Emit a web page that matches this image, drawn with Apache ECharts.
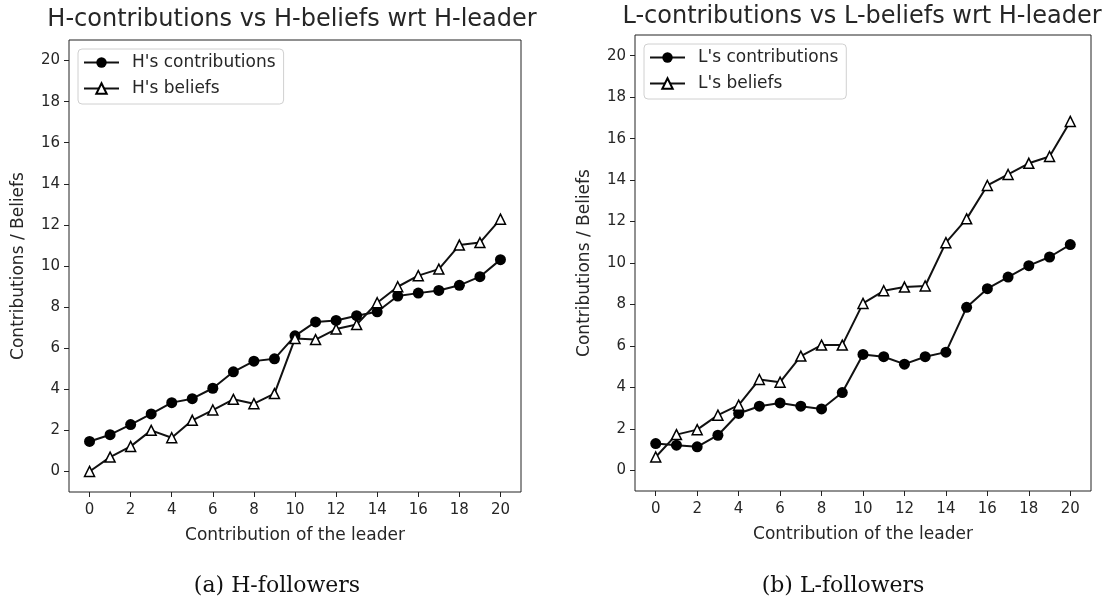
<!DOCTYPE html>
<html>
<head>
<meta charset="utf-8">
<script src="https://cdn.jsdelivr.net/npm/echarts@6/dist/echarts.min.js"></script>
<style>
html,body{margin:0;padding:0;background:#fff;}
#chart{width:1116px;height:604px;}
</style>
</head>
<body>
<div id="chart"></div>
<script>
// ---- data ----
const leaderContribution = [0,1,2,3,4,5,6,7,8,9,10,11,12,13,14,15,16,17,18,19,20];
const hContributions = [1.46,1.79,2.28,2.80,3.35,3.54,4.05,4.85,5.37,5.48,6.60,7.28,7.35,7.58,7.77,8.54,8.68,8.81,9.06,9.48,10.31];
const hBeliefs       = [0.00,0.70,1.22,2.00,1.64,2.49,2.99,3.51,3.30,3.79,6.47,6.42,6.93,7.15,8.21,8.99,9.53,9.85,11.02,11.14,12.28];
const lContributions = [1.29,1.21,1.13,1.69,2.74,3.09,3.25,3.09,2.96,3.75,5.59,5.48,5.12,5.48,5.70,7.86,8.76,9.32,9.87,10.29,10.89];
const lBeliefs       = [0.64,1.72,1.96,2.66,3.14,4.38,4.25,5.51,6.04,6.04,8.05,8.66,8.84,8.89,10.98,12.13,13.74,14.27,14.81,15.14,16.83];
const xTicks = [0,2,4,6,8,10,12,14,16,18,20];
const yTicks = [0,2,4,6,8,10,12,14,16,18,20];
const titles = ['H-contributions vs H-beliefs wrt H-leader','L-contributions vs L-beliefs wrt H-leader'];
const captions = ['(a) H-followers','(b) L-followers'];
const seriesNames = [["H's contributions","H's beliefs"],["L's contributions","L's beliefs"]];
const xLabel = 'Contribution of the leader';
const yLabel = 'Contributions / Beliefs';

const pairs = arr => leaderContribution.map((x,i)=>[x,arr[i]]);

const FONT = 'DejaVu Sans';
const TXT = '#262626';

const grids = [
  {left:69, top:40, width:452, height:452},
  {left:635, top:35, width:456, height:456}
];

function xAxis(i){
  return {
    type:'value', gridIndex:i, min:-1, max:21,
    name:xLabel, nameLocation:'middle', nameGap:35,
    nameTextStyle:{fontFamily:FONT,fontSize:17,color:TXT},
    axisLine:{show:false,onZero:false},
    axisTick:{show:true,length:5,lineStyle:{color:'#222',width:1},customValues:xTicks},
    axisLabel:{fontFamily:FONT,fontSize:15,color:TXT,margin:11,customValues:xTicks},
    splitLine:{show:false}
  };
}
function yAxis(i){
  return {
    type:'value', gridIndex:i, min:-1, max:21,
    name:yLabel, nameLocation:'middle', nameGap:42,
    nameTextStyle:{fontFamily:FONT,fontSize:17,color:TXT},
    axisLine:{show:false,onZero:false},
    axisTick:{show:true,length:5,lineStyle:{color:'#222',width:1},customValues:yTicks},
    axisLabel:{fontFamily:FONT,fontSize:15,color:TXT,margin:9,customValues:yTicks},
    splitLine:{show:false}
  };
}
function contribSeries(i,name,data){
  return {
    type:'line', name:name, xAxisIndex:i, yAxisIndex:i, data:pairs(data),
    symbol:'circle', symbolSize:11,
    itemStyle:{color:'#000',borderColor:'#000',borderWidth:0},
    lineStyle:{color:'#111',width:2},
    animation:false
  };
}
function beliefSeries(i,name,data){
  return {
    type:'line', name:name, xAxisIndex:i, yAxisIndex:i, data:pairs(data),
    symbol:'triangle', symbolSize:10,
    itemStyle:{color:'#fff',borderColor:'#000',borderWidth:1.5},
    lineStyle:{color:'#111',width:2},
    animation:false
  };
}
function legend(i,left,top){
  return {
    data:seriesNames[i], orient:'vertical', left:left, top:top,
    padding:[5,8,7,5], itemGap:9, itemWidth:35, itemHeight:13,
    backgroundColor:'rgba(255,255,255,0.8)', borderColor:'#d0d0d0', borderWidth:1, borderRadius:4,
    textStyle:{fontFamily:FONT,fontSize:17,color:TXT,padding:[0,0,0,8],lineHeight:17},
    selectedMode:false
  };
}

const chart = echarts.init(document.getElementById('chart'),null,{renderer:'canvas'});
chart.setOption({
  backgroundColor:'#fff',
  animation:false,
  grid:grids.map(g=>Object.assign({show:true,borderColor:'#222',borderWidth:1,backgroundColor:'transparent'},g)),
  xAxis:[xAxis(0),xAxis(1)],
  yAxis:[yAxis(0),yAxis(1)],
  legend:[legend(0,78,49),legend(1,644,44)],
  series:[
    contribSeries(0,seriesNames[0][0],hContributions),
    beliefSeries(0,seriesNames[0][1],hBeliefs),
    contribSeries(1,seriesNames[1][0],lContributions),
    beliefSeries(1,seriesNames[1][1],lBeliefs)
  ],
  graphic:[
    {type:'text',x:292,y:20,style:{text:titles[0],font:'24px "DejaVu Sans"',fill:TXT,textAlign:'center',textVerticalAlign:'middle'}},
    {type:'text',x:862,y:17,style:{text:titles[1],font:'24px "DejaVu Sans"',fill:TXT,textAlign:'center',textVerticalAlign:'middle'}},
    {type:'text',x:277,y:586,style:{text:captions[0],font:'22px "DejaVu Serif"',fill:'#111',textAlign:'center',textVerticalAlign:'middle'}},
    {type:'text',x:843,y:586,style:{text:captions[1],font:'22px "DejaVu Serif"',fill:'#111',textAlign:'center',textVerticalAlign:'middle'}}
  ]
});
</script>
</body>
</html>
